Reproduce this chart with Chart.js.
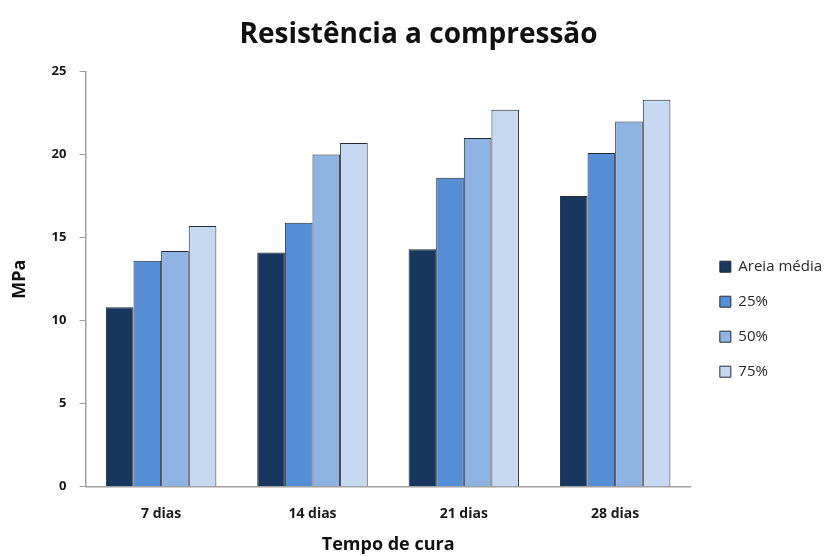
<!DOCTYPE html>
<html lang="pt">
<head>
<meta charset="utf-8">
<title>Resistência a compressão</title>
<script src="https://cdn.jsdelivr.net/npm/chart.js@4/dist/chart.umd.min.js"></script>
<style>
  html, body { margin: 0; padding: 0; background: #ffffff; }
  #wrap { width: 835px; height: 556px; position: relative; }
</style>
</head>
<body>
<div id="wrap"><canvas id="chart"></canvas></div>
<script>
// Curing time groups
const categories = ['7 dias', '14 dias', '21 dias', '28 dias'];

// Compressive strength (MPa) per sand mix
const areiaMedia = [10.8, 14.1, 14.3, 17.5];
const mix25 = [13.6, 15.9, 18.6, 20.1];
const mix50 = [14.2, 20.0, 21.0, 22.0];
const mix75 = [15.7, 20.7, 22.7, 23.3];

const seriesNames = ['Areia média', '25%', '50%', '75%'];
const seriesColors = ['#17375E', '#558ED5', '#8EB4E3', '#C6D9F1'];

const yTicks = [0, 5, 10, 15, 20, 25];

const FONT = "'Open Sans', 'DejaVu Sans', sans-serif";
const axisGray = '#a0a0a0';
const barEdge = '#262a33';

const seriesValues = [areiaMedia, mix25, mix50, mix75];
const datasets = seriesValues.map((vals, i) => ({
  label: seriesNames[i],
  data: vals,
  backgroundColor: seriesColors[i],
  borderColor: barEdge,
  borderWidth: 1,
  borderSkipped: 'bottom',
  categoryPercentage: 0.73,
  barPercentage: 1.0
}));

new Chart(document.getElementById('chart'), {
  type: 'bar',
  data: { labels: categories, datasets },
  options: {
    responsive: true,
    maintainAspectRatio: false,
    animation: false,
    layout: { padding: { left: 5, right: 3, top: 0, bottom: 0 } },
    plugins: {
      title: {
        display: true,
        text: 'Resistência a compressão',
        color: '#111111',
        font: { family: FONT, size: 28, weight: 'bold' },
        padding: { top: 18, bottom: 20 }
      },
      legend: {
        position: 'right',
        align: 'start',
        fullSize: true,
        // empty title used only to push the entries down
        title: { display: true, text: '', padding: { top: 238, bottom: 0 }, font: { size: 1 } },
        labels: {
          color: '#2a2a2a',
          font: { family: FONT, size: 15 },
          boxWidth: 11,
          boxHeight: 11,
          padding: 20,
          generateLabels(chart) {
            return chart.data.datasets.map((ds, i) => ({
              text: ds.label,
              fillStyle: ds.backgroundColor,
              strokeStyle: barEdge,
              fontColor: '#2a2a2a',
              lineWidth: 1,
              hidden: false,
              datasetIndex: i
            }));
          }
        }
      },
      tooltip: { enabled: false }
    },
    scales: {
      x: {
        grid: { display: false, drawTicks: true, tickLength: 17 },
        border: { display: true, color: axisGray, width: 1.5 },
        ticks: {
          color: '#1a1a1a',
          font: { family: FONT, size: 14, weight: 'bold' },
          padding: 2
        },
        title: {
          display: true,
          text: 'Tempo de cura',
          color: '#111111',
          font: { family: FONT, size: 18, weight: 'bold' },
          padding: { top: 10, bottom: 0 }
        }
      },
      y: {
        min: 0,
        max: 25,
        afterBuildTicks(scale) {
          scale.ticks = yTicks.map(v => ({ value: v }));
        },
        grid: {
          display: true,
          drawOnChartArea: false,
          drawTicks: true,
          tickLength: 6,
          color: axisGray
        },
        border: { display: true, color: axisGray, width: 1.5 },
        ticks: {
          color: '#1a1a1a',
          font: { family: FONT, size: 13, weight: 'bold' },
          padding: 13
        },
        title: {
          display: true,
          text: 'MPa',
          color: '#111111',
          font: { family: FONT, size: 18, weight: 'bold' },
          padding: { top: 4, bottom: 8 }
        }
      },
      spacer: {
        position: 'right',
        display: true,
        grid: { display: false },
        border: { display: false },
        ticks: { display: false },
        afterFit(scale) { scale.width = 9; }
      }
    }
  }
});
</script>
</body>
</html>
